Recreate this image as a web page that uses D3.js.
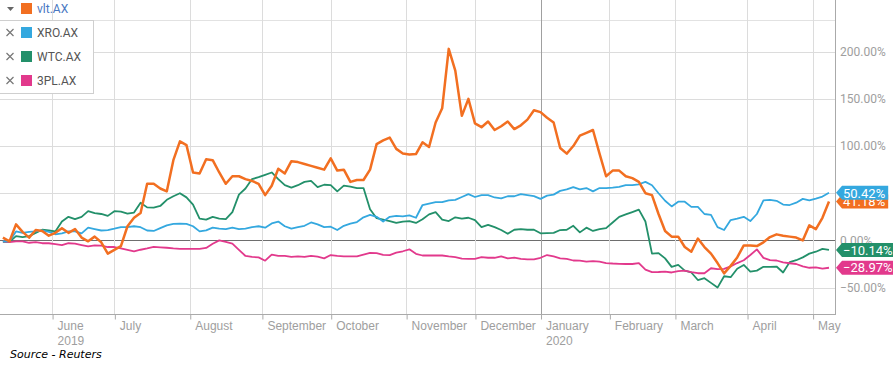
<!DOCTYPE html>
<html><head><meta charset="utf-8">
<script src="https://cdn.jsdelivr.net/npm/d3@7"></script>
<style>
body{margin:0;background:#fff;}
svg{display:block;font-family:Roboto,"Noto Sans",sans-serif;}
</style></head><body>
<svg id="chart" width="893" height="366"></svg>
<script>
// trading-session index of every sample (every 2nd ASX session from 13 May 2019)
const sessions = d3.range(0, 253, 2);
// first trading session of each month
const tickSessions = [15,34,57,79,100,123,144,164,185,205,227,247];
const tickMonths = ["June","July","August","September","October","November","December","January","February","March","April","May"];
const tickYears = ["2019","","","","","","","2020","","","",""];
const yTicks = [200,150,100,50,0,-50];
const seriesNames = ["vlt.AX","XRO.AX","WTC.AX","3PL.AX"];
const seriesColors = ["#f26f21","#34a8df","#23906a","#e2398c"];

const vlt = [3,-1,17,9,3,11,10,5,8,13,
 8,12,3,-1,4,-2,-14,-10,-6,15,
 24,29,60,60,55,52,85,105,101,72,
 71,86,85,72,60,68,68,65,63,60,
 48,58,76,71,84,83,81,79,77,75,
 87,74,75,62,64,64,75,102,106,109,
 97,92,91,91.5,104,99,125,140,203,180,
 132,150,124,120,126,117,121,126,118,122,
 128,138,136,130,125,98,92,100,111,114,
 117,92,68,74,74,68,66,62,50,48,
 28,10,4,4,-7,-12,2,-7,-14,-24,
 -35,-27,-18,-5.3,-5.3,-6,-2,3.5,6.4,5,
 4,3,0,16,12,24,41.18];
const xro = [-1,-1,9.5,8,9,9.5,10.6,9,6.5,7.5,
 9.5,9.5,7.5,13.5,12,10.5,11,12.4,14,14,
 15,14,10.5,10,13,16,17.5,17.7,17.5,15,
 9.6,10.6,13.5,12.4,12,13.5,12,12.4,14,15,
 13.5,18,20,15,12.4,14,15.5,19,17,14,
 14.5,11,15.5,17.7,19.5,24.5,27,25,20,25,
 26,25.5,26.5,24,37.5,39,40.5,40.5,42.5,43,
 46,49,46,48,48,45.5,44.5,46.8,46.8,49,
 48,47,44,47.5,48.5,52.5,54,56.5,54,55.5,
 52,55.5,55.5,56,56.7,58.5,58.5,59.5,62,58.5,
 50,42,36,41,41,35.5,35.5,28,27,14,
 11,21.5,23,25,20.5,28,42.5,43,42,38,
 37.5,40,44,42.5,44.3,46.5,50.42];
const wtc = [-1.5,-1.5,4.5,3.5,4.5,8,11.3,10.5,9.5,20,
 25,22.5,25,31,29,28,26,31,30.5,28.4,
 29.5,40,35,34.8,36.5,43,46.8,50,45.6,38,
 23,22,25,23,22.5,30,48.5,55,65,67,
 69.5,72,65,58.5,56,58.5,62,63,56.5,59,
 58.5,52,58,57,55.5,55.5,33,23.5,22,20.5,
 18.5,20,20.5,18.5,22.5,27.6,30,22,20.5,24.5,
 23,24,21.5,14,16.5,14,11,7,11.3,12,
 11.3,11.3,7.5,7.8,8,11,11.3,15.5,8.5,13.5,
 10,12,13,19,25,27.5,30,32.6,20,-14,
 -13.5,-19,-28,-26,-32,-34,-42,-40,-45,-50,
 -38,-39,-30,-26,-33,-32,-28,-28,-27.7,-34,
 -23,-21,-18,-14,-12,-9,-10.14];
const tpl = [-1,-1.8,-1,-1,-2.5,-1.8,-3,-3,-4,-5,
 -3,-3.5,-5,-6.4,-5.3,-5.5,-7,-7,-8.5,-10,
 -11.5,-9.9,-8.5,-6.8,-7.3,-7.8,-8.5,-8.9,-8.9,-8.9,
 -8.9,-8,-3.5,0,-1.5,-3.5,-10,-16.5,-17.5,-18,
 -21.5,-15,-16.5,-16.5,-17.5,-17,-17.5,-16.3,-17.3,-19,
 -15.5,-16.5,-17,-17,-17,-15,-13.3,-13.5,-15.3,-15.5,
 -13,-11.5,-9.5,-14.2,-16,-16,-16,-16,-17,-17.7,
 -19.3,-19.5,-19.5,-17.8,-18.4,-18.4,-17,-19,-18.3,-19.5,
 -20.2,-20,-18.4,-15.5,-17,-19,-19.5,-21.3,-21.5,-22.5,
 -22,-22.5,-24,-24.5,-24.8,-25,-25,-24,-31,-33.7,
 -33.5,-33,-34,-32.6,-32,-33.5,-34.8,-34.8,-29.5,-30.5,
 -30.2,-27.5,-24,-21,-15.5,-9.5,-18.5,-21,-21.3,-23.3,
 -24.2,-25,-27.5,-29,-28.5,-30,-28.97];

const seriesValues = [vlt, xro, wtc, tpl];

const svg = d3.select("#chart");
const plotR = 835, plotB = 314;
const x = d3.scaleLinear().domain([0, 252]).range([2.9, 829]);
const y = d3.scaleLinear().domain([-78, 254.8]).range([plotB, 0]);

// header rule
svg.append("line").attr("x1",0).attr("x2",plotR).attr("y1",20.5).attr("y2",20.5)
  .attr("stroke","#e2e2e2");

// horizontal grid
svg.append("g").selectAll("line").data(yTicks).join("line")
  .attr("x1",0).attr("x2",plotR)
  .attr("y1",d=>Math.round(y(d))+0.5).attr("y2",d=>Math.round(y(d))+0.5)
  .attr("stroke",d=>d===0?"#6e6e6e":"#dcdcdc").attr("stroke-width",1);

// vertical grid
svg.append("g").selectAll("line").data(tickSessions).join("line")
  .attr("x1",d=>Math.round(x(d))+0.5).attr("x2",d=>Math.round(x(d))+0.5)
  .attr("y1",0).attr("y2",plotB)
  .attr("stroke",(d,i)=>tickYears[i]&&i>0?"#a0a0a0":"#dcdcdc");

// bottom axis
const xAxis = d3.axisBottom(x).tickValues(tickSessions).tickSize(5).tickFormat("");
const gx = svg.append("g").attr("transform",`translate(0,${plotB+0.5})`).call(xAxis);
gx.select(".domain").remove();
gx.selectAll(".tick line").attr("stroke","#aaa").attr("transform","translate(0.5,0)");
gx.append("line").attr("x1",0).attr("x2",plotR+0.5).attr("stroke","#aaa");
const lab = gx.selectAll(".tick").append("text")
  .attr("fill","#9e9e9e").attr("font-size",12).attr("text-anchor","start")
  .attr("x",5);
lab.append("tspan").attr("x",5).attr("y",15).text((d,i)=>tickMonths[i]);
lab.append("tspan").attr("x",5).attr("y",30).text((d,i)=>tickYears[i]);

// right axis line
svg.append("line").attr("x1",plotR+0.5).attr("x2",plotR+0.5).attr("y1",0).attr("y2",plotB+1)
  .attr("stroke","#aaa");

// right labels
const yAxis = d3.axisRight(y).tickValues(yTicks).tickSize(0).tickPadding(5)
  .tickFormat(d=>d3.format(".2f")(d)+"%");
const gy = svg.append("g").attr("transform",`translate(${plotR},0)`).call(yAxis);
gy.select(".domain").remove();
gy.selectAll("text").attr("fill","#9e9e9e").attr("font-size",12)
  .attr("font-family","Roboto,sans-serif");

// lines
const line = d3.line().x((d,i)=>x(sessions[i])).y(d=>y(d));
const order = [2,3,1,0];
order.forEach(si=>{
  svg.append("path").datum(seriesValues[si])
    .attr("fill","none").attr("stroke",seriesColors[si])
    .attr("stroke-width",si===0?2.5:1.8)
    .attr("stroke-linejoin","round")
    .attr("d",line);
});

// end tags
const tagOrder = [0,1,2,3];
tagOrder.forEach(si=>{
  const v = seriesValues[si][seriesValues[si].length-1];
  const cy = y(v);
  const g = svg.append("g");
  const t = g.append("text").attr("x",plotR+8).attr("y",cy)
    .attr("dy","0.36em").attr("fill","#fff").attr("font-size",13)
    .text(d3.format(".2f")(v)+"%");
  const w = t.node().getComputedTextLength();
  const h = 7;
  g.insert("path","text")
    .attr("d",`M${plotR+1},${cy} L${plotR+7},${cy-h} L${plotR+11+w},${cy-h} L${plotR+11+w},${cy+h} L${plotR+7},${cy+h} Z`)
    .attr("fill",seriesColors[si]);
});

// legend
const lg = svg.append("g");
lg.append("path").attr("d","M7,7 L14,7 L10.5,11 Z").attr("fill","#666");
lg.append("rect").attr("x",21).attr("y",3).attr("width",11).attr("height",11).attr("fill",seriesColors[0]);
lg.append("text").attr("x",37).attr("y",9).attr("dy","0.35em").attr("font-size",12)
  .attr("fill","#4a78c2").text(seriesNames[0]);
lg.append("rect").attr("x",-1).attr("y",20.5).attr("width",94.5).attr("height",73)
  .attr("fill","#fff").attr("stroke","#cfcfcf");
[1,2,3].forEach((si,j)=>{
  const cy = 32.5 + j*24;
  lg.append("path").attr("d",`M6.5,${cy-3.5} L13.5,${cy+3.5} M13.5,${cy-3.5} L6.5,${cy+3.5}`)
    .attr("stroke","#777").attr("stroke-width",1.2).attr("fill","none");
  lg.append("rect").attr("x",21).attr("y",cy-5.5).attr("width",11).attr("height",11).attr("fill",seriesColors[si]);
  lg.append("text").attr("x",37).attr("y",cy).attr("dy","0.35em").attr("font-size",12)
    .attr("fill","#555").text(seriesNames[si]);
});

// source
svg.append("text").attr("x",10).attr("y",358).attr("font-size",11)
  .attr("font-style","italic").attr("font-family","'DejaVu Sans',sans-serif")
  .attr("fill","#000").text("Source - Reuters");
</script>
</body></html>
